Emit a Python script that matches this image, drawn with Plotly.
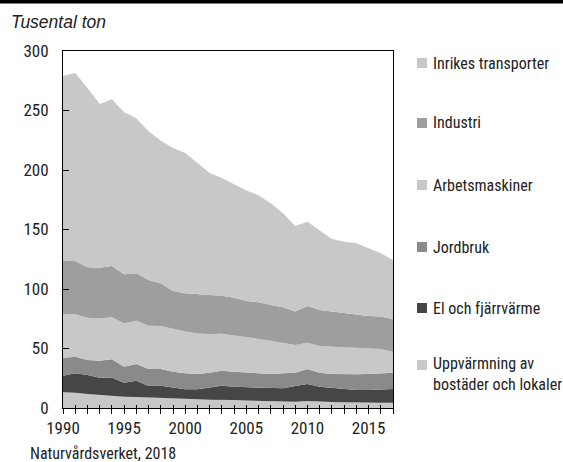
import plotly.graph_objects as go

years = list(range(1990, 2018))

uppvarmning = [13.2, 12.9, 11.8, 10.9, 10.4, 9.5, 9.2, 8.7, 8.4, 8.1, 7.6, 7.3, 7.0, 7.0,
               6.7, 6.2, 5.9, 5.3, 5.3, 5.3, 5.9, 5.3, 5.0, 4.8, 4.5, 4.5, 4.5, 4.5]
el_fjarrvarme = [14.0, 16.2, 15.9, 14.6, 15.1, 11.8, 13.8, 9.8, 10.3, 9.3, 8.1, 8.4, 10.4, 11.7,
                 11.2, 11.2, 11.2, 11.2, 11.2, 13.2, 14.3, 12.6, 12.1, 11.2, 10.6, 10.6, 11.2, 11.5]
jordbruk = [15.1, 14.0, 12.6, 14.3, 15.4, 13.4, 14.0, 14.3, 14.1, 13.1, 13.4, 12.9, 12.3, 12.7,
            12.6, 12.3, 12.0, 12.1, 12.6, 11.2, 12.6, 11.8, 11.5, 12.3, 13.2, 13.5, 13.4, 13.7]
arbetsmaskiner = [36.7, 35.6, 35.6, 35.5, 35.3, 36.5, 36.4, 36.4, 36.1, 35.9, 35.1, 34.1, 32.5, 31.1,
                  30.7, 29.7, 28.9, 28.0, 25.8, 23.2, 22.1, 22.4, 22.9, 23.0, 22.4, 21.5, 20.5, 17.6]
industri = [44.5, 44.8, 42.3, 42.6, 43.1, 41.1, 39.8, 38.4, 35.9, 31.9, 32.2, 33.3, 32.8, 31.9,
            31.5, 30.6, 30.8, 30.0, 29.7, 28.1, 30.8, 30.3, 29.5, 28.3, 28.0, 27.2, 27.2, 27.5]
inrikes = [155.5, 158.0, 150.8, 137.6, 140.1, 136.2, 130.3, 124.9, 119.8, 120.2, 117.8, 109.6, 102.5, 98.8,
           95.1, 92.8, 89.9, 85.4, 79.0, 72.0, 70.9, 67.2, 61.0, 60.2, 59.7, 56.9, 53.2, 49.6]

series_names = ["Uppvärmning av<br>bostäder och lokaler", "El och fjärrvärme", "Jordbruk",
                "Arbetsmaskiner", "Industri", "Inrikes transporter"]
series_values = [uppvarmning, el_fjarrvarme, jordbruk, arbetsmaskiner, industri, inrikes]
series_colors = ["#c8c8c8", "#464646", "#8a8a8a", "#c8c8c8", "#9e9e9e", "#c8c8c8"]

y_ticks = [0, 50, 100, 150, 200, 250, 300]

COND = "Roboto"

fig = go.Figure()
for name, vals, col in zip(series_names, series_values, series_colors):
    fig.add_trace(go.Scatter(
        x=years, y=vals, name=name, mode="lines", stackgroup="one",
        line=dict(width=0, color=col), fillcolor=col, showlegend=False,
        hoverinfo="x+y+name",
    ))

fig.add_trace(go.Scatter(x=[years[0]], y=[0], xaxis="x2", mode="markers",
                         marker=dict(opacity=0), showlegend=False, hoverinfo="skip"))

legend_y_px = [63, 123, 185, 247, 308, 374]
plot_top, plot_h = 51, 357
for (name, col), ypx in zip(list(zip(series_names, series_colors))[::-1], legend_y_px):
    yp = 1 - (ypx - plot_top) / plot_h
    fig.add_annotation(xref="paper", yref="paper", x=(431 - 63) / 330, y=yp,
                       text=name, showarrow=False, xanchor="left", yanchor="middle",
                       align="left", font=dict(family=COND, size=16, color="#222"))
    off = 9 / plot_h if "<br>" in name else 0
    fig.add_shape(type="rect", xref="paper", yref="paper",
                  x0=(417 - 63) / 330, x1=(427 - 63) / 330,
                  y0=yp + off - 5 / plot_h, y1=yp + off + 5 / plot_h,
                  fillcolor=col, line=dict(width=0))

fig.add_shape(type="rect", xref="paper", yref="paper", x0=-1, x1=2,
              y0=1 + (plot_top - 3.5) / plot_h, y1=1 + (plot_top + 2) / plot_h,
              fillcolor="black", line=dict(width=0), layer="above")

fig.add_annotation(xref="paper", yref="paper", x=-54 / 330, y=1 + (plot_top - 21.5) / plot_h,
                   text="<i>Tusental ton</i>", showarrow=False, xanchor="left", yanchor="middle",
                   align="left",
                   font=dict(family="Liberation Sans, Arial, sans-serif", size=17.5, color="#222"))
fig.add_annotation(xref="paper", yref="paper", x=-35 / 330, y=-(453 - 408) / plot_h,
                   text="Naturvårdsverket, 2018", showarrow=False, xanchor="left", yanchor="middle",
                   align="left", font=dict(family=COND, size=16, color="#222"))

fig.update_layout(
    width=563, height=462,
    margin=dict(l=63, r=170, t=51, b=54),
    paper_bgcolor="white", plot_bgcolor="white",
    font=dict(family=COND, size=17, color="#222"),
    showlegend=False,
    xaxis=dict(range=[1990, 2017], tick0=1990, dtick=5, ticks="outside", ticklen=5,
               tickcolor="black", tickwidth=1, showline=True, linecolor="black", linewidth=1,
               mirror=True, showgrid=False, zeroline=False,
               minor=dict(dtick=1, ticks="outside", ticklen=5, tickcolor="black", showgrid=False),
               tickfont=dict(family=COND, size=17, color="#222")),
    xaxis2=dict(range=[1990, 2017], overlaying="x", anchor="y", side="bottom",
                tick0=1990, dtick=1, ticks="inside", ticklen=3, tickcolor="black",
                showticklabels=False, showline=False, showgrid=False, zeroline=False),
    yaxis=dict(range=[0, 300], tickvals=y_ticks, ticks="inside", ticklen=6, tickcolor="black",
               showline=True, linecolor="black", linewidth=1, mirror=True,
               showgrid=False, zeroline=False, ticklabelstandoff=10,
               tickfont=dict(family=COND, size=17, color="#222")),
)

post = """
document.body.style.margin = '0';
var s = document.createElement('style');
s.textContent = 'text[style*="Roboto"] { font-stretch: 75% !important; font-variation-settings: "wdth" 75 !important; }';
document.head.appendChild(s);
"""
fig.write_html("out.html", post_script=post, config={"displayModeBar": False})
